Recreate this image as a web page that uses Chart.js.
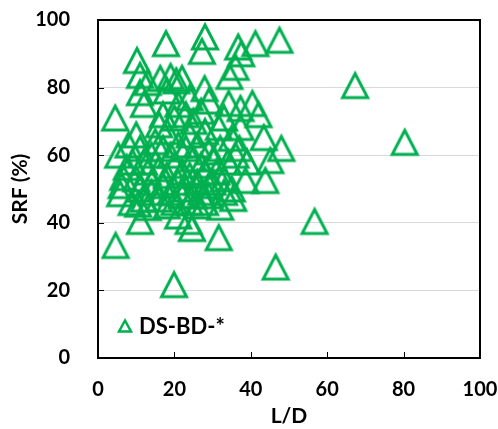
<!DOCTYPE html>
<html>
<head>
<meta charset="utf-8">
<title>SRF vs L/D</title>
<script src="https://cdn.jsdelivr.net/npm/chart.js@4.4.1/dist/chart.umd.min.js"></script>
<style>
  html, body { margin: 0; padding: 0; background: #fff; }
  #wrap { width: 498px; height: 429px; }
</style>
</head>
<body>
<div id="wrap"><canvas id="srfChart" width="498" height="429"></canvas></div>
<script>
// ✅ Data (L/D on x, SRF % on y)
const seriesLabel = "DS-BD-*";
const ldValues = [
  4.5, 5.3, 7.5, 6.6, 6.2, 5.8, 8.8, 4.6, 8, 9,
  10.2, 11, 13, 11, 12, 10, 11, 12, 13, 10, 11, 12, 13, 11, 14, 14, 15, 10.5, 14,
  17.8, 16.3, 19, 20.5, 22, 18, 17, 16, 18, 20, 21, 17, 19, 21, 16, 18, 20, 22, 17, 19, 21, 16, 18, 20, 22, 19.9, 21,
  28, 27.2, 27.9, 24, 23, 25, 27, 29, 24, 26, 28, 23, 25, 27, 29, 24, 26, 28, 23, 25, 27, 29, 24, 26, 28, 23.7, 24.6, 30.3, 30, 29,
  34.4, 36.7, 37.5, 36, 34.2, 37.3, 40.4, 31.6, 37.3, 33, 35, 32, 34, 36, 31, 33, 35, 38.6, 35.4, 32, 33, 31.6, 39, 37,
  41.2, 47.5, 43.4, 48, 45.1, 43.8, 42,
  46.5, 56.7, 67.3, 80.3
];
const srfValues = [
  71, 60, 56.4, 53.4, 51, 48.6, 46, 33.3, 63, 58,
  88, 83.6, 81.5, 78.5, 75, 66, 62, 58, 55, 53, 50, 47, 44.5, 40.4, 52, 60, 64, 45.5, 49,
  93, 82.7, 83.3, 82, 82.7, 79, 72, 69, 67, 71, 75, 62, 60, 63, 56, 54, 57, 55, 51, 49, 52, 47, 45, 46, 48, 21.7, 42,
  95, 90.7, 79.7, 77, 72, 70, 73, 76, 66, 63, 67, 62, 59, 57, 61, 54, 52, 55, 50, 48, 49, 51, 46, 45, 46, 40.4, 38.3, 59, 52, 48,
  83.3, 92, 90, 86, 75.3, 73.8, 75.3, 68.2, 68.2, 71, 65, 62, 58, 60, 55, 53, 50, 52.5, 47.2, 44.6, 49, 35.6, 58, 62,
  93, 94, 65.2, 62, 58.4, 52.5, 72,
  26.9, 40.4, 80.6, 63.8
];
const xTicks = [0, 20, 40, 60, 80, 100];
const yTicks = [0, 20, 40, 60, 80, 100];

const GREEN = "#00B050";
const FONT = "Lato";

// ✅ Hollow triangle marker, centred in its box like an Excel marker
function makeTriangle(size, w, h, lw) {
  const c = document.createElement("canvas");
  c.width = size;
  c.height = size;
  const g = c.getContext("2d");
  const cx = size / 2, cy = size / 2;
  g.strokeStyle = GREEN;
  g.lineWidth = lw;
  g.lineJoin = "miter";
  g.beginPath();
  g.moveTo(cx, cy - h / 2);
  g.lineTo(cx + w / 2, cy + h / 2);
  g.lineTo(cx - w / 2, cy + h / 2);
  g.closePath();
  g.stroke();
  return c;
}
const bigTri = makeTriangle(36, 25, 24, 3);
const smallTri = makeTriangle(20, 12, 11, 2.5);

// ✅ Frame, inward ticks and in-plot legend
const framePlugin = {
  id: "frame",
  afterDraw(chart) {
    const { ctx, chartArea: a, scales } = chart;
    ctx.save();
    ctx.strokeStyle = "#000";
    ctx.lineWidth = 1;
    ctx.beginPath();
    xTicks.forEach(function (v) {
      if (v <= 0 || v >= 100) return;
      const px = Math.round(scales.x.getPixelForValue(v)) + 0.5;
      ctx.moveTo(px, a.bottom);
      ctx.lineTo(px, a.bottom - 6);
    });
    yTicks.forEach(function (v) {
      if (v <= 0 || v >= 100) return;
      const py = Math.round(scales.y.getPixelForValue(v)) + 0.5;
      ctx.moveTo(a.left, py);
      ctx.lineTo(a.left + 6, py);
    });
    ctx.stroke();

    ctx.lineWidth = 2;
    ctx.strokeRect(a.left, a.top, a.right - a.left, a.bottom - a.top);

    const lx = a.left + 27;
    const ly = a.bottom - 32;
    ctx.drawImage(smallTri, lx - smallTri.width / 2, ly - smallTri.height / 2);
    ctx.fillStyle = "#000";
    ctx.font = "bold 22px " + FONT;
    ctx.textAlign = "left";
    ctx.textBaseline = "middle";
    ctx.fillText(seriesLabel, lx + 14, ly + 1);
    ctx.restore();
  },
};

const points = ldValues.map(function (x, i) {
  return { x: x, y: srfValues[i] };
});

new Chart(document.getElementById("srfChart").getContext("2d"), {
  type: "scatter",
  data: {
    datasets: [
      {
        label: seriesLabel,
        data: points,
        pointStyle: bigTri,
        pointRadius: 14,
        borderColor: GREEN,
        backgroundColor: "rgba(0,0,0,0)",
      },
    ],
  },
  options: {
    responsive: false,
    animation: false,
    events: [],
    layout: { padding: { top: 20, right: 18, left: 0, bottom: 0 } },
    plugins: {
      legend: { display: false },
      tooltip: { enabled: false },
    },
    scales: {
      x: {
        type: "linear",
        min: 0,
        max: 100,
        afterBuildTicks: function (s) {
          s.ticks = xTicks.map(function (v) { return { value: v }; });
        },
        afterFit: function (s) {
          s.height = 71;
          s.paddingLeft = 0;
          s.paddingRight = 0;
        },
        grid: { display: false, drawTicks: false },
        border: { display: false },
        ticks: {
          padding: 20,
          color: "#000",
          font: { family: FONT, size: 20, weight: "bold" },
        },
        title: {
          display: true,
          text: "L/D",
          color: "#000",
          padding: { top: 0, bottom: 0 },
          font: { family: FONT, size: 21, weight: "bold" },
        },
      },
      y: {
        type: "linear",
        min: 0,
        max: 100,
        afterBuildTicks: function (s) {
          s.ticks = yTicks.map(function (v) { return { value: v }; });
        },
        afterFit: function (s) {
          s.width = 98;
          s.paddingTop = 0;
          s.paddingBottom = 0;
        },
        grid: {
          drawTicks: false,
          color: function (c) {
            const v = c.tick ? c.tick.value : 0;
            return v > 0 && v < 100 ? "#d9d9d9" : "rgba(0,0,0,0)";
          },
        },
        border: { display: false },
        ticks: {
          padding: 28,
          color: "#000",
          font: { family: FONT, size: 20, weight: "bold" },
        },
        title: {
          display: true,
          text: "SRF (%)",
          color: "#000",
          padding: { top: 8, bottom: 0 },
          font: { family: FONT, size: 21, weight: "bold" },
        },
      },
    },
  },
  plugins: [framePlugin],
});
</script>
</body>
</html>
